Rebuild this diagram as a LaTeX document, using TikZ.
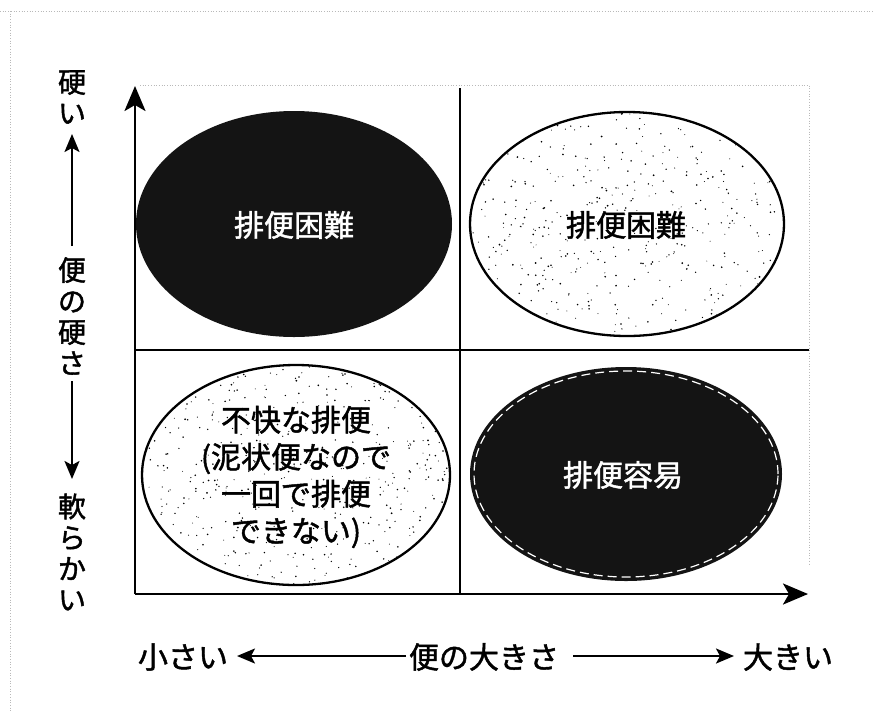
\documentclass[tikz,border=0pt]{standalone}
\usepackage{fontspec}
\newfontfamily\jp[FakeBold=1.5]{Noto Sans CJK JP}
\usetikzlibrary{arrows.meta}
\begin{document}
\begin{tikzpicture}[x=1pt,y=-1pt,
  axisline/.style={line width=2.8pt,-{Stealth[length=25pt,width=21pt,inset=6pt]}},
  divider/.style={line width=2.6pt},
  faint/.style={gray!55,dotted,line width=0.7pt},
  labarrow/.style={line width=2.2pt,-{Stealth[length=18pt,width=15pt,inset=4pt]}},
  darkfill/.style={fill=black!92},
  ring/.style={draw=black,line width=2.3pt},
  inring/.style={draw=white,line width=1.2pt,dash pattern=on 9pt off 5pt},
  qtext/.style={font=\jp\fontsize{30}{37}\selectfont,align=center,inner sep=0pt},
  vtext/.style={font=\jp\fontsize{28}{31}\selectfont,align=center,inner sep=0pt},
  htext/.style={font=\jp\fontsize{30}{34}\selectfont,inner sep=0pt},
  stipple/.style={fill=black}
]
\useasboundingbox (0,0) rectangle (874,721);
\fill[white] (0,0) rectangle (874,721);

% faint scan frame
\coordinate (fa) at (0,11);
\coordinate (fb) at (874,11);
\coordinate (fc) at (10,11);
\coordinate (fd) at (10,712);
\draw[faint] (fa) -- (fb);
\draw[faint] (fc) -- (fd);

% plot frame coordinates
\coordinate (o) at (135,594);
\coordinate (ytip) at (135,86);
\coordinate (xtip) at (808,594);
\coordinate (vt) at (460,88);
\coordinate (vb) at (460,594);
\coordinate (hl) at (135,350);
\coordinate (hr) at (809,350);
\coordinate (tl0) at (140,85);
\coordinate (tr0) at (809,85);
\coordinate (rb0) at (809,565);

\draw[faint] (tl0) -- (tr0) -- (rb0);

% ellipses
\coordinate (cTL) at (294,224);
\coordinate (cTR) at (627,224);
\coordinate (cBL) at (296,475);
\coordinate (cBR) at (626,474);

\fill[darkfill] (cTL) ellipse [x radius=158pt, y radius=113pt];

\begin{scope}
\clip (cTR) ellipse [x radius=157pt, y radius=112pt];
\pgfmathsetseed{11}
\foreach \i in {1,...,520}{
  \fill[stipple] ({470+314*rnd},{112+225*rnd}) circle ({0.45+0.5*rnd});
}
\end{scope}
\draw[ring] (cTR) ellipse [x radius=157pt, y radius=112pt];

\begin{scope}
\clip (cBL) ellipse [x radius=154pt, y radius=110pt];
\pgfmathsetseed{23}
\foreach \i in {1,...,560}{
  \fill[stipple] ({142+308*rnd},{365+220*rnd}) circle ({0.45+0.5*rnd});
}
\end{scope}
\draw[ring] (cBL) ellipse [x radius=154pt, y radius=110pt];

\fill[darkfill] (cBR) ellipse [x radius=156pt, y radius=107pt];
\draw[inring] (cBR) ellipse [x radius=152pt, y radius=103pt];

% dividers and axes
\draw[divider] (vt) -- (vb);
\draw[divider] (hl) -- (hr);
\draw[axisline] (o) -- (ytip);
\draw[axisline] (o) -- (xtip);

% quadrant texts
\node[qtext,text=white] (tTL) at (294,225) {排便困難};
\node[qtext] (tTR) at (626,225) {排便困難};
\node[qtext] (tBL) at (296,477) {不快な排便\\(泥状便なので\\一回で排便\\できない)};
\node[qtext,text=white] (tBR) at (623,475) {排便容易};

% vertical axis labels
\node[vtext] (hard) at (72,97) {硬\\い};
\node[vtext] (firm) at (72,316) {便\\の\\硬\\さ};
\node[vtext] (soft) at (72,552) {軟\\ら\\か\\い};
\coordinate (ua) at (72,246);
\coordinate (ub) at (72,134);
\coordinate (da) at (72,381);
\coordinate (db) at (72,479);
\draw[labarrow] (ua) -- (ub);
\draw[labarrow] (da) -- (db);

% horizontal axis labels
\node[htext] (small) at (183,657) {小さい};
\node[htext] (size) at (484,657) {便の大きさ};
\node[htext] (large) at (788,657) {大きい};
\coordinate (la) at (406,656);
\coordinate (lb) at (237,656);
\coordinate (ra) at (573,656);
\coordinate (rb) at (734,656);
\draw[labarrow] (la) -- (lb);
\draw[labarrow] (ra) -- (rb);
\end{tikzpicture}
\end{document}
